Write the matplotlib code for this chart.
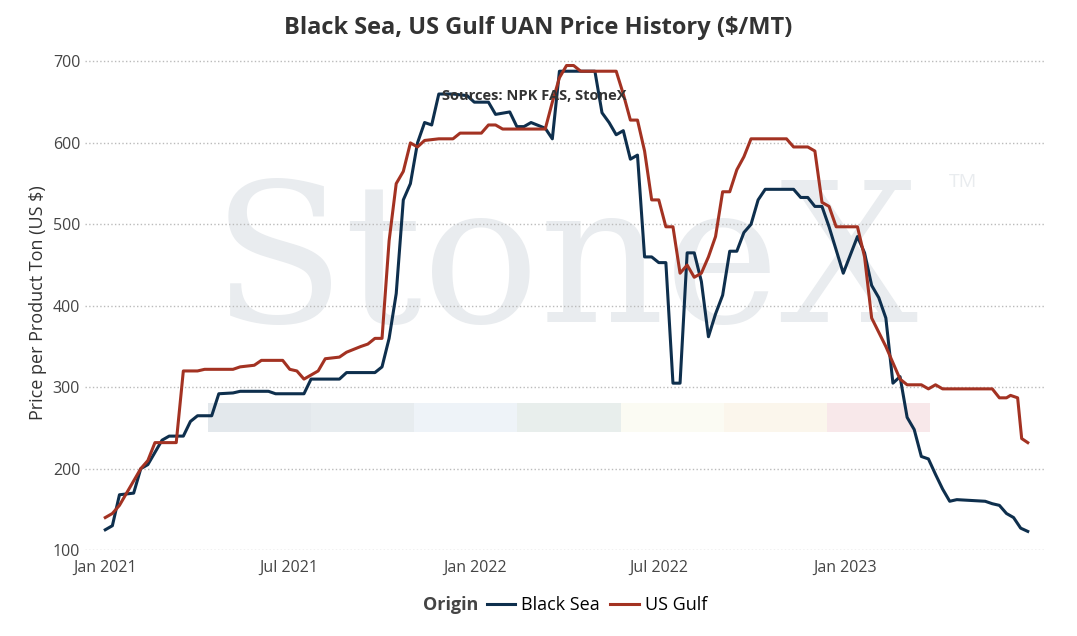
import matplotlib
matplotlib.use("Agg")
import matplotlib.pyplot as plt
import matplotlib.dates as mdates
import pandas as pd
from matplotlib.offsetbox import HPacker

plt.rcParams['font.family'] = ['Open Sans', 'DejaVu Sans']

bs_dates = ["2021-01-01","2021-01-08","2021-01-15","2021-01-29","2021-02-05","2021-02-12","2021-02-26","2021-03-05","2021-03-19","2021-03-26","2021-04-02","2021-04-16","2021-04-23","2021-05-07","2021-05-14","2021-06-11","2021-06-18","2021-07-16","2021-07-23","2021-08-20","2021-08-27","2021-09-24","2021-10-01","2021-10-08","2021-10-15","2021-10-22","2021-10-29","2021-11-05","2021-11-12","2021-11-19","2021-11-26","2021-12-10","2021-12-24","2021-12-31","2022-01-14","2022-01-21","2022-02-04","2022-02-11","2022-02-18","2022-02-25","2022-03-11","2022-03-18","2022-03-25","2022-04-29","2022-05-06","2022-05-13","2022-05-20","2022-05-27","2022-06-03","2022-06-10","2022-06-17","2022-06-24","2022-07-01","2022-07-08","2022-07-15","2022-07-22","2022-07-29","2022-08-05","2022-08-12","2022-08-19","2022-08-26","2022-09-02","2022-09-09","2022-09-16","2022-09-23","2022-09-30","2022-10-07","2022-10-14","2022-11-11","2022-11-18","2022-11-25","2022-12-02","2022-12-09","2022-12-16","2022-12-30","2023-01-13","2023-01-20","2023-01-27","2023-02-03","2023-02-10","2023-02-17","2023-02-24","2023-03-03","2023-03-10","2023-03-17","2023-03-24","2023-03-31","2023-04-07","2023-04-14","2023-04-21","2023-05-19","2023-05-26","2023-06-02","2023-06-09","2023-06-16","2023-06-23","2023-06-30"]
bs_vals = [125,130,168,170,200,205,235,240,240,258,265,265,292,293,295,295,292,292,310,310,318,318,325,360,415,530,550,600,625,622,660,660,658,650,650,635,638,620,620,625,618,605,688,688,637,625,610,615,580,585,460,460,453,453,305,305,465,465,430,362,390,413,467,467,490,500,530,543,543,533,533,522,522,497,440,485,465,425,410,385,305,313,263,248,215,212,193,175,160,162,160,157,155,145,140,127,123]

us_dates = ["2021-01-01","2021-01-08","2021-01-15","2021-01-22","2021-02-05","2021-02-12","2021-02-19","2021-03-12","2021-03-19","2021-04-02","2021-04-09","2021-05-07","2021-05-14","2021-05-28","2021-06-04","2021-06-25","2021-07-02","2021-07-09","2021-07-16","2021-07-23","2021-07-30","2021-08-06","2021-08-20","2021-08-27","2021-09-10","2021-09-17","2021-09-24","2021-10-01","2021-10-08","2021-10-15","2021-10-22","2021-10-29","2021-11-05","2021-11-12","2021-11-26","2021-12-10","2021-12-17","2022-01-07","2022-01-14","2022-01-21","2022-01-28","2022-03-11","2022-03-18","2022-03-25","2022-04-01","2022-04-08","2022-04-15","2022-05-20","2022-05-27","2022-06-03","2022-06-10","2022-06-17","2022-06-24","2022-07-01","2022-07-08","2022-07-15","2022-07-22","2022-07-29","2022-08-05","2022-08-12","2022-08-19","2022-08-26","2022-09-02","2022-09-09","2022-09-16","2022-09-23","2022-09-30","2022-11-04","2022-11-11","2022-11-25","2022-12-02","2022-12-09","2022-12-16","2022-12-23","2023-01-13","2023-01-20","2023-01-27","2023-02-10","2023-02-24","2023-03-03","2023-03-17","2023-03-24","2023-03-31","2023-04-07","2023-05-26","2023-06-02","2023-06-09","2023-06-13","2023-06-20","2023-06-24","2023-06-30"]
us_vals = [140,145,155,170,200,210,232,232,320,320,322,322,325,327,333,333,322,320,310,315,320,335,337,343,350,353,360,360,480,550,565,600,595,603,605,605,612,612,622,622,617,617,650,680,695,695,688,688,660,628,628,590,530,530,497,497,440,450,435,440,460,485,540,540,567,583,605,605,595,595,590,527,522,497,497,460,385,350,310,303,303,298,303,298,298,287,287,290,287,237,232]

tick_dates = ["2021-01-01", "2021-07-01", "2022-01-01", "2022-07-01", "2023-01-01"]

fig = plt.figure(figsize=(10.77, 6.36), dpi=100)
ax = fig.add_axes([85 / 1077, 0.135, 960 / 1077, 0.778])

# watermark
ax.text(0.5, 0.57, "StoneX", transform=ax.transAxes, ha='center', va='center',
        fontsize=140, family='DejaVu Serif', color='#e9ecef', zorder=0)
ax.text(0.915, 0.745, "TM", transform=ax.transAxes, ha='center', va='center',
        fontsize=14, color='#e9ecef', zorder=0)
strip = ['#e3e8ec', '#e7ecef', '#eef3f8', '#e8eeec', '#fbfbf3', '#fbf6ec', '#f8e8ea']
w = (930 - 208) / 960 / 7
for i, c in enumerate(strip):
    ax.add_patch(plt.Rectangle(((208 - 85) / 960 + i * w, 0.238), w, 0.06,
                               transform=ax.transAxes, color=c, zorder=0, lw=0))

ax.plot(pd.to_datetime(bs_dates), bs_vals, color='#0e2f4d', lw=2.2, label='Black Sea', zorder=3)
ax.plot(pd.to_datetime(us_dates), us_vals, color='#a33222', lw=2.2, label='US Gulf', zorder=3)

ax.set_ylim(100, 707.5)
ax.set_yticks(range(100, 701, 100))
ax.set_xlim(pd.Timestamp("2020-12-12"), pd.Timestamp("2023-07-17"))
ax.set_xticks(pd.to_datetime(tick_dates))
ax.xaxis.set_major_formatter(mdates.DateFormatter('%b %Y'))
ax.grid(axis='y', ls=':', color='#bbbbbb', lw=1)
for s in ax.spines.values():
    s.set_visible(False)
ax.tick_params(length=0, labelsize=11.5, colors='#444444')
ax.tick_params(axis='x', pad=7)
ax.set_ylabel("Price per Product Ton (US $)", fontsize=13, color='#333333')

ax.text(0.468, 0.918, "Sources: NPK FAS, StoneX", transform=ax.transAxes, ha='center',
        va='center', fontsize=10.5, fontweight='bold', color='#333333', zorder=4)
fig.suptitle("Black Sea, US Gulf UAN Price History ($/MT)", fontsize=17,
             fontweight='bold', color='#333333', y=0.975)

leg = ax.legend(loc='upper center', bbox_to_anchor=(0.5, -0.06), ncol=2, frameon=False,
                fontsize=13, title='Origin', handlelength=1.6, handletextpad=0.3,
                columnspacing=0.6)
leg.get_title().set_fontweight('bold')
leg.get_title().set_fontsize(13)
leg.get_title().set_color('#444444')
box = leg._legend_box
box._children = [HPacker(children=box.get_children(), align='center', pad=0, sep=6)]
fig.savefig("out.png", dpi=100)
